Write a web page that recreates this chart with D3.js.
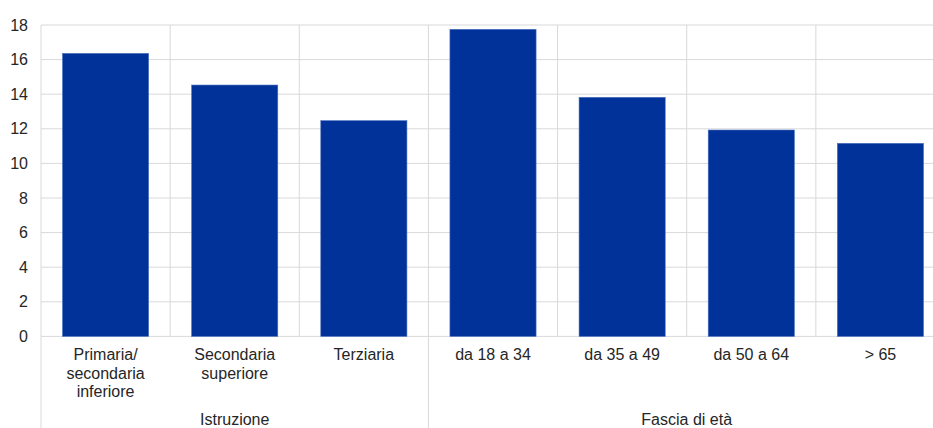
<!DOCTYPE html>
<html><head><meta charset="utf-8">
<script src="https://cdn.jsdelivr.net/npm/d3@7"></script>
<style>body{margin:0;background:#fff}svg{display:block}text{font-family:"Liberation Sans",Arial,sans-serif;fill:#262626}</style>
</head><body>
<script>
const categories = ["Primaria/\nsecondaria\ninferiore","Secondaria\nsuperiore","Terziaria","da 18 a 34","da 35 a 49","da 50 a 64","> 65"];
const groups = ["Istruzione","Istruzione","Istruzione","Fascia di età","Fascia di età","Fascia di età","Fascia di età"];
const values = [16.36, 14.53, 12.47, 17.75, 13.82, 11.93, 11.16];
const yTicks = [0,2,4,6,8,10,12,14,16,18];

const W = 933, H = 428;
const m = {left:41, right:945, top:25, bottom:336.4};
const svg = d3.select("body").append("svg").attr("width",W).attr("height",H);
const x = d3.scaleBand().domain(d3.range(categories.length)).range([m.left,m.right]).paddingInner(0).paddingOuter(0);
const y = d3.scaleLinear().domain([0,18]).range([m.bottom,m.top]);
const grid = "#d9d9d9";

// horizontal gridlines
svg.append("g").selectAll("line").data(yTicks).join("line")
  .attr("x1",m.left).attr("x2",m.right).attr("y1",d=>y(d)).attr("y2",d=>y(d))
  .attr("stroke",grid).attr("stroke-width",1);
// vertical category gridlines
const bounds = d3.range(categories.length+1).map(i=> i<categories.length ? x(i) : m.right);
svg.append("g").selectAll("line").data(bounds).join("line")
  .attr("x1",d=>d).attr("x2",d=>d).attr("y1",m.top).attr("y2",m.bottom)
  .attr("stroke",grid).attr("stroke-width",1);

// bars
const bw = x.bandwidth()*0.667;
svg.append("g").selectAll("rect").data(values).join("rect")
  .attr("x",(d,i)=>x(i)+(x.bandwidth()-bw)/2).attr("width",bw)
  .attr("y",d=>y(d)).attr("height",d=>y(0)-y(d))
  .attr("fill","#003299").attr("stroke","#4a6fc0").attr("stroke-width",0.6);

// y axis labels
svg.append("g").selectAll("text").data(yTicks).join("text")
  .attr("x",28).attr("y",d=>y(d)+5.5).attr("text-anchor","end")
  .attr("font-size",16).text(d=>d);

// category labels
categories.forEach((c,i)=>{
  const lines = c.split("\n");
  const t = svg.append("text").attr("text-anchor","middle").attr("font-size",16)
    .attr("x",x(i)+x.bandwidth()/2).attr("y",360);
  lines.forEach((l,j)=>t.append("tspan").attr("x",x(i)+x.bandwidth()/2).attr("dy",j?18.5:0).text(l));
});

// group separators and labels
const groupNames = Array.from(new Set(groups));
const groupSpans = groupNames.map(g=>{
  const idx = groups.map((v,i)=>v===g?i:-1).filter(i=>i>=0);
  return {g, x0:x(idx[0]), x1: idx[idx.length-1]===categories.length-1 ? m.right : x(idx[idx.length-1]+1)};
});
const sepXs = [m.left, ...groupSpans.map(s=>s.x1)];
svg.append("g").selectAll("line").data(sepXs).join("line")
  .attr("x1",d=>d).attr("x2",d=>d).attr("y1",m.bottom).attr("y2",H)
  .attr("stroke",grid).attr("stroke-width",1);
svg.append("g").selectAll("text").data(groupSpans).join("text")
  .attr("x",d=>(d.x0+d.x1)/2).attr("y",425).attr("text-anchor","middle")
  .attr("font-size",16).text(d=>d.g);
</script>
</body></html>
